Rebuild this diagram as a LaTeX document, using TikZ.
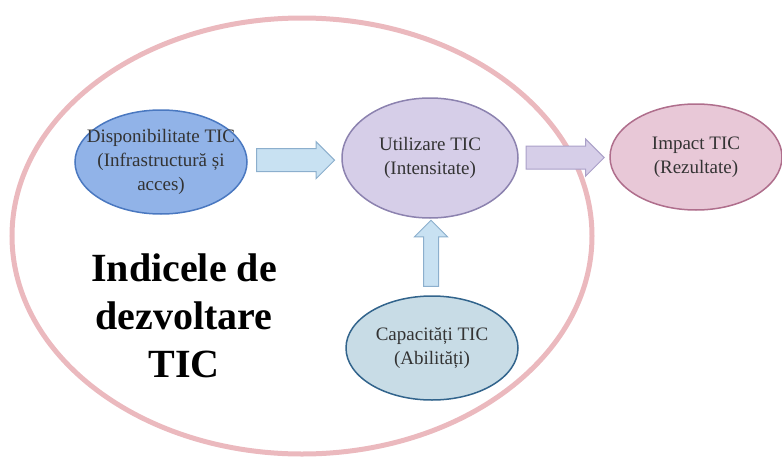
\documentclass[tikz,border=0pt]{standalone}
\usepackage{fontspec}
\setmainfont{Liberation Serif}
\usetikzlibrary{shapes.geometric}
\usetikzlibrary{shapes.arrows}
\usetikzlibrary{calc}

\definecolor{ringpink}{HTML}{EBB9BE}
\definecolor{dispfill}{HTML}{91B3E8}
\definecolor{displine}{HTML}{4A78C0}
\definecolor{utilfill}{HTML}{D6CEE8}
\definecolor{utilline}{HTML}{8C82AF}
\definecolor{impfill}{HTML}{E8C8D7}
\definecolor{impline}{HTML}{AF6E8C}
\definecolor{capfill}{HTML}{C8DCE6}
\definecolor{capline}{HTML}{32648C}
\definecolor{bluearrow}{HTML}{C8E1F2}
\definecolor{bluearrowline}{HTML}{8CAFCD}
\definecolor{lilacarrowline}{HTML}{AAA0C8}

\begin{document}
\begin{tikzpicture}[x=1pt,y=-1pt,
            oval node/.style={ellipse, draw, line width=1.5pt, inner sep=0pt, align=center, text=black!80,
                              font=\fontsize{19}{24}\selectfont},
            block arrow/.style={single arrow, draw, line width=1pt, minimum height=78pt, inner xsep=0pt,
                                inner ysep=11pt, single arrow head extend=7pt},
            ]
            \useasboundingbox (0,0) rectangle (782,458);

            \node[ellipse, draw=ringpink, line width=5pt, minimum width=580pt, minimum height=436pt] (ring) at (302,236) {};

            \node[oval node, fill=dispfill, draw=displine, minimum width=172pt, minimum height=104pt, inner xsep=-14pt] (disp) at (161,162)
                {Disponibilitate TIC\\(Infrastructură și\\acces)};
            \node[oval node, fill=utilfill, draw=utilline, minimum width=176pt, minimum height=120pt] (util) at (430,158)
                {Utilizare TIC\\(Intensitate)};
            \node[oval node, fill=impfill, draw=impline, minimum width=172pt, minimum height=106pt] (imp) at (696,157)
                {Impact TIC\\(Rezultate)};
            \node[oval node, fill=capfill, draw=capline, minimum width=172pt, minimum height=104pt] (cap) at (432,348)
                {Capacități TIC\\(Abilități)};

            \node[block arrow, fill=bluearrow, draw=bluearrowline] (a1) at ($(disp.east)!0.45!(util.west)$) {};
            \node[block arrow, fill=utilfill, draw=lilacarrowline] (a2) at ($(util.east)!0.45!(imp.west)$) {};
            \node[block arrow, fill=bluearrow, draw=bluearrowline, shape border rotate=90, minimum height=66pt,
                  inner xsep=7pt, inner ysep=0pt, single arrow head extend=9pt] (a3) at ($(cap.north)!0.5!(util.south)$) {};

            \node[align=center, font=\fontsize{40}{48}\selectfont\bfseries] (title) at (184,316)
                {Indicele de\\dezvoltare\\TIC};
        \end{tikzpicture}
\end{document}
